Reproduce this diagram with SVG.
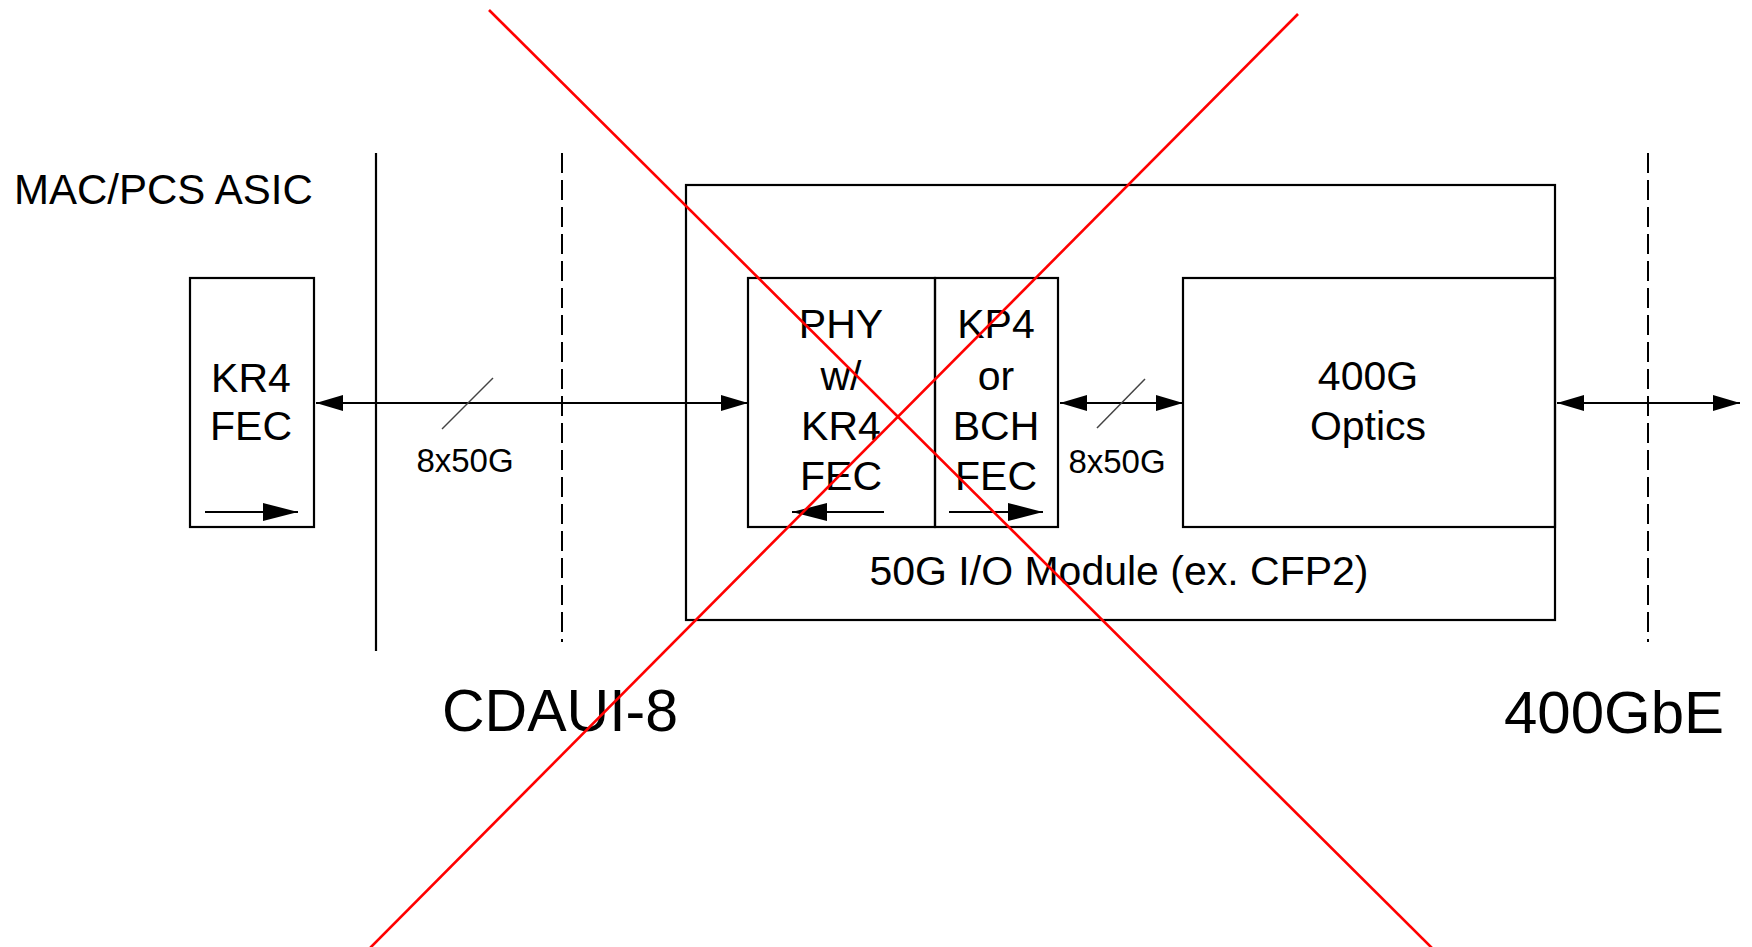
<svg xmlns="http://www.w3.org/2000/svg" width="1752" height="947" viewBox="0 0 1752 947">
  <style>
    .box { fill: none; stroke: #000; stroke-width: 2.2; }
    .ln { stroke: #000; stroke-width: 2.2; fill: none; }
    .dash { stroke: #000; stroke-width: 2; stroke-dasharray: 20 7; fill: none; }
    .slash { stroke: #444; stroke-width: 1.5; }
    .t { font-family: "Liberation Sans", Arial, sans-serif; fill: #000; }
    .c { text-anchor: middle; }
    .x { stroke: #ff0000; stroke-width: 2.6; fill: none; }
  </style>
  <defs>
    <marker id="arr" markerUnits="userSpaceOnUse" markerWidth="28" markerHeight="18" refX="27" refY="8" orient="auto-start-reverse">
      <path d="M0,0 L27,8 L0,16 z" fill="#000"/>
    </marker>
    <marker id="arrL" markerUnits="userSpaceOnUse" markerWidth="36" markerHeight="20" refX="35" refY="9" orient="auto-start-reverse">
      <path d="M0,0 L35,9 L0,18 z" fill="#000"/>
    </marker>
  </defs>
  <rect width="1752" height="947" fill="#fff"/>

  <text class="t" x="14" y="204" font-size="42">MAC/PCS ASIC</text>

  <g id="boundaries">
    <line class="ln" x1="376" y1="153" x2="376" y2="651"/>
    <line class="dash" x1="562" y1="153" x2="562" y2="642"/>
    <line class="dash" x1="1648" y1="153" x2="1648" y2="642"/>
  </g>

  <g id="kr4fec">
    <rect class="box" x="190" y="278" width="124" height="249"/>
    <text class="t c" x="251" y="392" font-size="41">KR4</text>
    <text class="t c" x="251" y="440" font-size="41">FEC</text>
    <line class="ln" x1="205" y1="512" x2="298" y2="512" marker-end="url(#arrL)"/>
  </g>

  <g id="module">
    <rect class="box" x="686" y="185" width="869" height="435"/>
    <text class="t c" x="1119" y="585" font-size="41">50G I/O Module (ex. CFP2)</text>
  </g>

  <g id="phy">
    <rect class="box" x="748" y="278" width="187" height="249"/>
    <text class="t c" x="841" y="338" font-size="41">PHY</text>
    <text class="t c" x="841" y="390" font-size="41">w/</text>
    <text class="t c" x="841" y="440" font-size="41">KR4</text>
    <text class="t c" x="841" y="490" font-size="41">FEC</text>
    <line class="ln" x1="884" y1="512" x2="792" y2="512" marker-end="url(#arrL)"/>
  </g>

  <g id="kp4">
    <rect class="box" x="935" y="278" width="123" height="249"/>
    <text class="t c" x="996" y="338" font-size="41">KP4</text>
    <text class="t c" x="996" y="390" font-size="41">or</text>
    <text class="t c" x="996" y="440" font-size="41">BCH</text>
    <text class="t c" x="996" y="490" font-size="41">FEC</text>
    <line class="ln" x1="949" y1="512" x2="1043" y2="512" marker-end="url(#arrL)"/>
  </g>

  <g id="optics">
    <rect class="box" x="1183" y="278" width="372" height="249"/>
    <text class="t c" x="1368" y="390" font-size="41">400G</text>
    <text class="t c" x="1368" y="440" font-size="41">Optics</text>
  </g>

  <g id="connectors">
    <line class="ln" x1="316" y1="403" x2="748" y2="403" marker-start="url(#arr)" marker-end="url(#arr)"/>
    <line class="slash" x1="442" y1="429" x2="493" y2="378"/>
    <text class="t c" x="465" y="472" font-size="33">8x50G</text>

    <line class="ln" x1="1060" y1="403" x2="1183" y2="403" marker-start="url(#arr)" marker-end="url(#arr)"/>
    <line class="slash" x1="1097" y1="428" x2="1145" y2="379"/>
    <text class="t c" x="1117" y="473" font-size="33">8x50G</text>

    <line class="ln" x1="1557" y1="403" x2="1740" y2="403" marker-start="url(#arr)" marker-end="url(#arr)"/>
  </g>

  <text class="t c" x="560" y="731" font-size="59">CDAUI-8</text>
  <text class="t c" x="1614" y="733" font-size="60">400GbE</text>

  <g id="cross">
    <line class="x" x1="489" y1="10" x2="1432" y2="948"/>
    <line class="x" x1="1298" y1="14" x2="370" y2="948"/>
  </g>
</svg>
